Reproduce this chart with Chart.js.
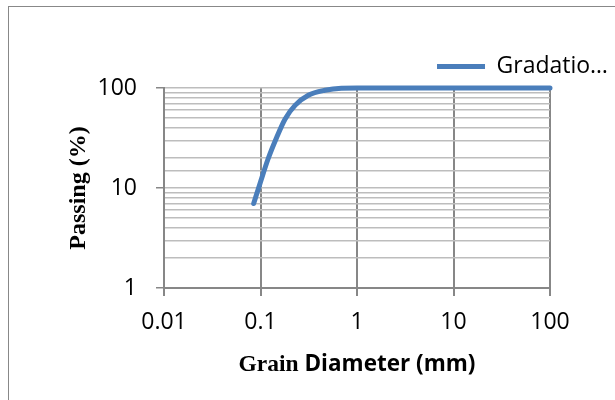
<!DOCTYPE html>
<html>
<head>
<meta charset="utf-8">
<script src="https://cdn.jsdelivr.net/npm/chart.js@4.4.0/dist/chart.umd.min.js"></script>
<style>
    html, body { margin: 0; padding: 0; background: #fff; overflow: hidden; }
    #wrap { position: relative; width: 615px; height: 400px; }
    #frame { position: absolute; left: 8px; top: 6px; width: 700px; height: 500px; border: 1px solid #888; pointer-events: none; }
    canvas { position: absolute; left: 0; top: 0; }
</style>
</head>
<body>
<div id="wrap"><canvas id="chart" width="615" height="400"></canvas><div id="frame"></div></div>
<script>
const grainSize = [0.085, 0.1, 0.12, 0.147, 0.18, 0.228, 0.313, 0.466, 0.69, 1, 2, 5, 10, 20, 50, 100];
const passing = [7, 11.5, 19.6, 32, 49, 67, 84.5, 95, 99.5, 100, 100, 100, 100, 100, 100, 100];
const xTicks = [0.01, 0.1, 1, 10, 100];
const yTicks = [1, 10, 100];

const COLORS = {
    line: "#4A7EBB",
    axis: "#878787",
    grid: "#BDBDBD",
    text: "#000000",
};

const SANS = "'Open Sans', sans-serif";
const SERIF = "'Liberation Serif', serif";

// x title mixes a serif word and a sans run, so it is drawn here
const xTitlePlugin = {
    id: "xTitle",
    afterDraw(chart) {
        const { ctx, chartArea } = chart;
        const a = "Grain";
        const b = " Diameter (mm)";
        ctx.save();
        ctx.fillStyle = COLORS.text;
        ctx.textBaseline = "alphabetic";
        ctx.font = "bold 23.5px " + SERIF;
        const wa = ctx.measureText(a).width;
        ctx.font = "bold 22.5px " + SANS;
        const wb = ctx.measureText(b).width;
        let x = (chartArea.left + chartArea.right) / 2 - (wa + wb) / 2;
        ctx.font = "bold 23.5px " + SERIF;
        ctx.fillText(a, x, 371);
        ctx.font = "bold 22.5px " + SANS;
        ctx.fillText(b, x + wa, 371);
        ctx.restore();
    },
};

const points = grainSize.map((g, i) => ({ x: g, y: passing[i] }));

new Chart(document.getElementById("chart"), {
    type: "line",
    data: {
        datasets: [{
            label: "Gradation",
            data: points,
            borderColor: COLORS.line,
            backgroundColor: COLORS.line,
            borderWidth: 5,
            borderCapStyle: "round",
            borderJoinStyle: "round",
            pointRadius: 0,
            cubicInterpolationMode: "monotone",
            clip: false,
        }],
    },
    plugins: [xTitlePlugin],
    options: {
        responsive: false,
        animation: false,
        layout: { padding: { top: 28, left: 0, right: 0, bottom: 0 } },
        plugins: {
            legend: {
                position: "top",
                align: "end",
                labels: {
                    font: { family: SANS, size: 23 },
                    color: COLORS.text,
                    usePointStyle: true,
                    pointStyle: "line",
                    pointStyleWidth: 48,
                    padding: 7,
                    generateLabels: chart => {
                        const items = Chart.defaults.plugins.legend.labels.generateLabels(chart);
                        items.forEach(it => { it.text = it.text.slice(0, 8) + "\u2026"; it.lineWidth = 5; });
                        return items;
                    },
                },
            },
            tooltip: { enabled: false },
        },
        scales: {
            x: {
                type: "logarithmic",
                min: 0.01,
                max: 100,
                afterBuildTicks: s => { s.ticks = xTicks.map(v => ({ value: v })); },
                afterFit: s => { s.height = 112; s.paddingRight = 65; },
                ticks: {
                    callback: v => String(v),
                    font: { family: SANS, size: 23 },
                    color: COLORS.text,
                    padding: 13,
                    maxRotation: 0,
                    autoSkip: false,
                },
                grid: { color: COLORS.axis, lineWidth: 2, tickLength: 8, tickColor: COLORS.axis },
                border: { color: COLORS.axis, width: 2 },
            },
            y: {
                type: "logarithmic",
                min: 1,
                max: 100,
                afterFit: s => { s.width = 164; s.paddingTop = 88; },
                ticks: {
                    callback: v => (yTicks.includes(v) ? String(v) : ""),
                    font: { family: SANS, size: 23 },
                    color: COLORS.text,
                    padding: 19,
                    autoSkip: false,
                },
                grid: {
                    color: COLORS.grid,
                    lineWidth: 1.5,
                    tickLength: 8,
                    tickColor: c => (c.tick && yTicks.includes(c.tick.value) ? COLORS.axis : "transparent"),
                },
                border: { color: COLORS.axis, width: 2 },
                title: {
                    display: true,
                    text: "Passing (%)",
                    font: { family: SERIF, size: 24, weight: "bold" },
                    color: COLORS.text,
                    padding: { top: 64, bottom: 0 },
                },
            },
        },
    },
});
</script>
</body>
</html>
